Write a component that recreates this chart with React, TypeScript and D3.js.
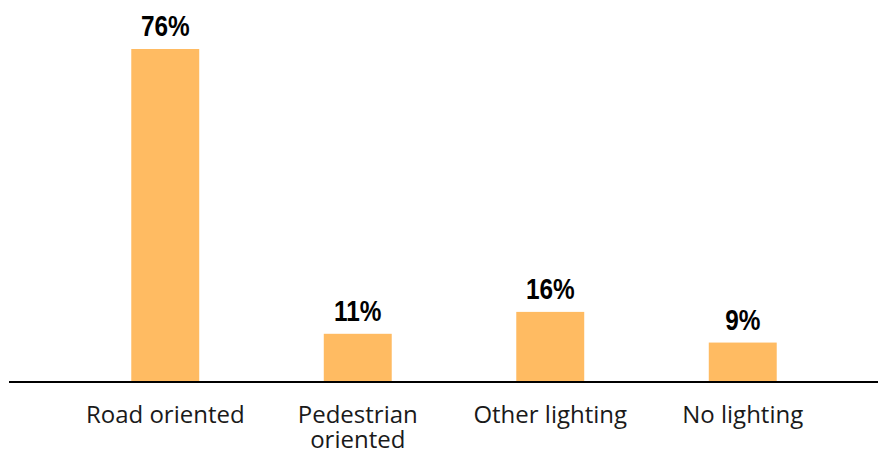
import React from "react";
import * as d3 from "d3";

const categories: string[][] = [["Road oriented"], ["Pedestrian", "oriented"], ["Other lighting"], ["No lighting"]];
const values: number[] = [76, 11, 16, 9];

const W = 878;
const H = 454;
const baseY = 382;

export default function App() {
  const x = d3
    .scaleBand<number>()
    .domain(d3.range(values.length))
    .range([69, 839])
    .paddingInner(0.647)
    .paddingOuter(0.3235);
  const y = d3.scaleLinear().domain([0, 76]).range([baseY, 49]);

  return (
    <svg width={W} height={H} style={{ position: "absolute", left: 0, top: 0 }}>
      <rect x={0} y={0} width={W} height={H} fill="#fff" />
      {values.map((v, i) => {
        const cx = x(i)! + x.bandwidth() / 2;
        return (
          <g key={i}>
            <rect x={x(i)!} y={y(v)} width={x.bandwidth()} height={baseY - y(v)} fill="#FFBB62" />
            <text
              transform={`translate(${cx},${y(v) - 13}) scale(0.84,1)`}
              textAnchor="middle"
              fontFamily="'Liberation Sans', Arial, sans-serif"
              fontWeight="bold"
              fontSize={29}
              fill="#000"
            >
              {v}%
            </text>
            <text
              x={cx}
              y={423}
              textAnchor="middle"
              fontFamily="'Open Sans', sans-serif"
              fontSize={24}
              fill="#1a1a1a"
            >
              {categories[i].map((line, j) => (
                <tspan key={j} x={cx} dy={j === 0 ? 0 : 25}>
                  {line}
                </tspan>
              ))}
            </text>
          </g>
        );
      })}
      <line x1={9} x2={878} y1={baseY} y2={baseY} stroke="#000" strokeWidth={2} />
    </svg>
  );
}
